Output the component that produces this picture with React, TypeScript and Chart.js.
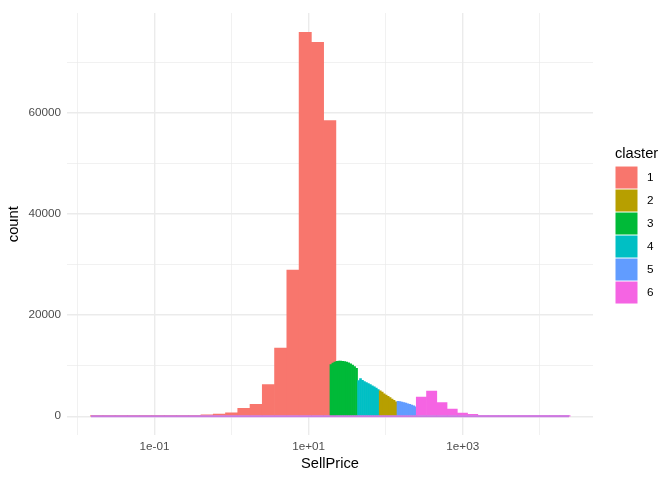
import { useEffect, useRef } from 'react';
import { Chart, registerables } from 'chart.js';

Chart.register(...registerables);

// ---- data (SellPrice histogram on log10 scale, per cluster) ----
const clusterNames = ['1', '2', '3', '4', '5', '6'];
const clusterColors = ['#F8766D', '#B79F00', '#00BA38', '#00BFC4', '#619CFF', '#F564E3'];

// cluster 1: coarse bins (log10 of SellPrice)
const cluster1LogStart = -1.83;
const cluster1LogWidth = 0.1592;
const cluster1Counts = [10, 8, 8, 10, 15, 25, 40, 80, 150, 250, 400, 650, 1550, 2345, 6250, 13500, 28900, 76000, 74000, 58500];

// clusters 3, 4, 2, 5: fine bins
const fineLogWidth = 0.0256;
const cluster3LogStart = 1.2766;
const cluster3Counts = [10200, 10500, 10700, 10850, 10900, 10900, 10850, 10800, 10700, 10550, 10350, 10100, 9800, 9500];
const cluster4LogStart = 1.635;
const cluster4Counts = [7050, 7450, 7100, 6850, 6650, 6450, 6250, 6000, 5800, 5550, 5250];
const cluster2LogStart = 1.9166;
const cluster2Counts = [5000, 4750, 4450, 4200, 3950, 3700, 3400, 3150, 2850];
const cluster5LogStart = 2.147;
const cluster5Counts = [2950, 2900, 2800, 2700, 2600, 2450, 2350, 2200, 2050, 1850];

// cluster 6: medium bins
const cluster6LogStart = 2.397;
const cluster6LogWidth = 0.1331;
const cluster6Counts = [3770, 4950, 2680, 1430, 620, 380, 120, 60, 30, 15, 8, 4, 2, 1, 1];

const sellPriceRange = [0.01496, 23990];
const countMax = 76000;

const xMajorBreaks = [0.1, 10, 1000];
const xMajorLabels = ['1e-01', '1e+01', '1e+03'];
const xMinorBreaks = [0.01, 1, 100, 10000];
const yMajorBreaks = [0, 20000, 40000, 60000];
const yMinorBreaks = [10000, 30000, 50000, 70000];

const FONT = 'Liberation Sans, Arial, Helvetica, sans-serif';

const bins = (start: number, width: number, counts: number[]) =>
  counts.map((c, i) => ({ x: Math.pow(10, start + (i + 0.5) * width), y: c }));

const isClose = (a: number, b: number) => Math.abs(Math.log10(a) - Math.log10(b)) < 1e-6;

const legendPlugin = {
  id: 'clasterLegend',
  afterDraw(chart: any) {
    const ctx = chart.ctx as CanvasRenderingContext2D;
    const area = chart.chartArea;
    const x0 = area.right + 22;
    const keySize = 23;
    const keysTop = (area.top + area.bottom) / 2 - 58.2;
    ctx.save();
    ctx.fillStyle = '#000000';
    ctx.font = `14.67px ${FONT}`;
    ctx.textAlign = 'left';
    ctx.textBaseline = 'alphabetic';
    ctx.fillText('claster', x0, keysTop - 7.8);
    ctx.font = `11.73px ${FONT}`;
    ctx.textBaseline = 'middle';
    clusterNames.forEach((name, i) => {
      const y = keysTop + i * keySize;
      ctx.fillStyle = clusterColors[i];
      ctx.fillRect(x0 + 0.5, y + 0.5, keySize - 1, keySize - 1);
      ctx.fillStyle = '#000000';
      ctx.fillText(name, x0 + 32, y + keySize / 2 + 0.5);
    });
    ctx.restore();
  },
};

export default function App() {
  const ref = useRef<HTMLCanvasElement>(null);

  useEffect(() => {
    const logMin = Math.log10(sellPriceRange[0]);
    const logMax = Math.log10(sellPriceRange[1]);
    const span = logMax - logMin;
    const xMin = Math.pow(10, logMin - 0.05 * span);
    const xMax = Math.pow(10, logMax + 0.05 * span);
    const yMin = -0.05 * countMax;
    const yMax = countMax * 1.05;

    const barCommon = {
      type: 'bar' as const,
      borderWidth: 0,
      barPercentage: 1,
      categoryPercentage: 1,
      grouped: false,
    };

    const hiddenAxis = {
      type: 'logarithmic' as const,
      display: false,
      min: xMin,
      max: xMax,
      offset: false,
      grid: { offset: false },
      afterBuildTicks: (s: any) => {
        s.ticks = [{ value: xMin }, { value: xMax }];
      },
    };

    const chart = new Chart(ref.current!, {
      type: 'bar',
      data: {
        datasets: [
          {
            type: 'line',
            label: 'baseline',
            data: [
              { x: sellPriceRange[0], y: 0 },
              { x: sellPriceRange[1], y: 0 },
            ],
            borderColor: '#C97AE0',
            borderWidth: 2,
            pointRadius: 0,
            xAxisID: 'x',
            order: 0,
          } as any,
          { ...barCommon, label: clusterNames[0], data: bins(cluster1LogStart, cluster1LogWidth, cluster1Counts), backgroundColor: clusterColors[0], xAxisID: 'x', order: 7 },
          { ...barCommon, label: clusterNames[2], data: bins(cluster3LogStart, fineLogWidth, cluster3Counts), backgroundColor: clusterColors[2], xAxisID: 'xf', order: 6 },
          { ...barCommon, label: clusterNames[3], data: bins(cluster4LogStart, fineLogWidth, cluster4Counts), backgroundColor: clusterColors[3], xAxisID: 'xf', order: 5 },
          { ...barCommon, label: clusterNames[1], data: bins(cluster2LogStart, fineLogWidth, cluster2Counts), backgroundColor: clusterColors[1], xAxisID: 'xf', order: 4 },
          { ...barCommon, label: clusterNames[4], data: bins(cluster5LogStart, fineLogWidth, cluster5Counts), backgroundColor: clusterColors[4], xAxisID: 'xf', order: 3 },
          { ...barCommon, label: clusterNames[5], data: bins(cluster6LogStart, cluster6LogWidth, cluster6Counts), backgroundColor: clusterColors[5], xAxisID: 'xp', order: 2 },
        ] as any,
      },
      options: {
        animation: false,
        responsive: true,
        maintainAspectRatio: false,
        layout: { padding: { left: 0, top: 7.7, right: 79, bottom: 0 } },
        plugins: {
          legend: { display: false },
          tooltip: { enabled: false },
        },
        scales: {
          x: {
            type: 'logarithmic',
            min: xMin,
            max: xMax,
            offset: false,
            border: { display: false },
            grid: {
              offset: false,
              drawTicks: false,
              color: '#EBEBEB',
              lineWidth: (c: any) =>
                c.tick && xMajorBreaks.some((b) => isClose(b, c.tick.value)) ? 1.4 : 0.7,
            },
            afterBuildTicks: (s: any) => {
              s.ticks = [...xMinorBreaks, ...xMajorBreaks].sort((a, b) => a - b).map((v) => ({ value: v }));
            },
            afterFit: (s: any) => {
              s.height = 44.6;
            },
            ticks: {
              autoSkip: false,
              maxRotation: 0,
              padding: 4,
              color: '#4D4D4D',
              font: { family: FONT, size: 11.73 },
              callback: (v: any) => {
                const i = xMajorBreaks.findIndex((b) => isClose(b, Number(v)));
                return i >= 0 ? xMajorLabels[i] : '';
              },
            },
            title: {
              display: true,
              text: 'SellPrice',
              color: '#000000',
              font: { family: FONT, size: 14.67 },
              padding: { top: 0, bottom: 7.2 },
            },
          },
          xf: hiddenAxis,
          xp: hiddenAxis,
          y: {
            type: 'linear',
            min: yMin,
            max: yMax,
            border: { display: false },
            grid: {
              drawTicks: false,
              color: '#EBEBEB',
              lineWidth: (c: any) => (c.tick && yMajorBreaks.includes(c.tick.value) ? 1.4 : 0.7),
            },
            afterBuildTicks: (s: any) => {
              s.ticks = [...yMajorBreaks, ...yMinorBreaks].sort((a, b) => a - b).map((v) => ({ value: v }));
            },
            afterFit: (s: any) => {
              s.width = 67;
            },
            ticks: {
              autoSkip: false,
              padding: 6,
              color: '#4D4D4D',
              font: { family: FONT, size: 11.73 },
              callback: (v: any) => (yMajorBreaks.includes(Number(v)) ? String(v) : ''),
            },
            title: {
              display: true,
              text: 'count',
              color: '#000000',
              font: { family: FONT, size: 14.67 },
              padding: { top: 5.2, bottom: 0 },
            },
          },
        } as any,
      },
      plugins: [legendPlugin],
    });
    return () => chart.destroy();
  }, []);

  return (
    <div style={{ position: 'absolute', left: 0, top: 0, width: 672, height: 480, background: '#ffffff' }}>
      <canvas ref={ref} />
    </div>
  );
}
